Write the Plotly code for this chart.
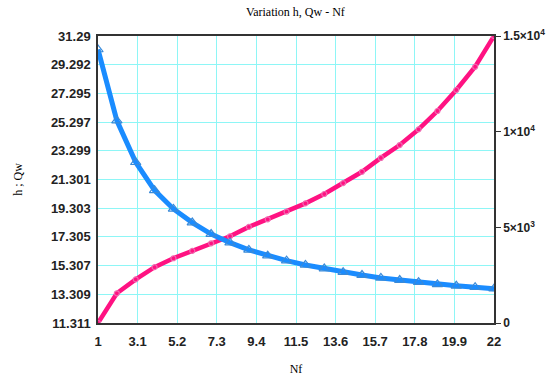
import plotly.graph_objects as go

nf = list(range(1, 23))
h_pink = [11.311, 13.38, 14.35, 15.2, 15.82, 16.33, 16.86, 17.35, 18.0, 18.53, 19.06,
          19.64, 20.29, 21.05, 21.84, 22.8, 23.7, 24.79, 26.07, 27.53, 29.15, 31.29]
q_blue = [30.35, 25.4, 22.5, 20.55, 19.25, 18.3, 17.5, 16.9, 16.4, 16.0, 15.65,
          15.35, 15.1, 14.85, 14.65, 14.45, 14.3, 14.15, 14.0, 13.9, 13.8, 13.7]

x_ticks = [1, 3.1, 5.2, 7.3, 9.4, 11.5, 13.6, 15.7, 17.8, 19.9, 22]
x_labels = ["1", "3.1", "5.2", "7.3", "9.4", "11.5", "13.6", "15.7", "17.8", "19.9", "22"]
y_ticks = [11.311, 13.309, 15.307, 17.305, 19.303, 21.301, 23.299, 25.297, 27.295, 29.292, 31.29]
y_labels = ["11.311", "13.309", "15.307", "17.305", "19.303", "21.301", "23.299",
            "25.297", "27.295", "29.292", "31.29"]
y2_ticks = [0, 5000, 10000, 15000]
y2_labels = ["0", "5×10<sup>3</sup>", "1×10<sup>4</sup>", "1.5×10<sup>4</sup>"]

PINK = "#ff1282"
BLUE = "#1a8cff"
GRID = "#8ef6f6"
TICKFONT = dict(family="Liberation Sans", size=13, color="#222222", weight="bold")
SERIF = dict(family="Liberation Serif", size=12, color="black")

fig = go.Figure()
fig.add_trace(go.Scatter(
    x=nf, y=h_pink, mode="lines+markers",
    line=dict(color=PINK, width=4.5),
    marker=dict(symbol="circle-open", size=5, color="#f06ab0", line=dict(width=1.2)),
    showlegend=False))
fig.add_trace(go.Scatter(
    x=nf, y=q_blue, mode="lines+markers",
    line=dict(color=BLUE, width=5),
    marker=dict(symbol="triangle-up-open", size=9, color="#3a8ad8", line=dict(width=1.2)),
    showlegend=False))
# invisible trace so the right-hand axis is drawn
fig.add_trace(go.Scatter(
    x=[nf[0]], y=[y2_ticks[0]], yaxis="y2", mode="none",
    hoverinfo="skip", showlegend=False))

fig.update_layout(
    width=547, height=376,
    margin=dict(l=98, r=53, t=36, b=53),
    paper_bgcolor="white", plot_bgcolor="white",
    title=dict(text="Variation h, Qw - Nf", x=0.54, xanchor="center", y=0.968, yanchor="middle",
               font=SERIF),
    xaxis=dict(range=[1, 22], tickvals=x_ticks, ticktext=x_labels,
               showgrid=True, gridcolor=GRID, gridwidth=1,
               showline=True, linecolor="#333333", linewidth=1.5, mirror=True,
               ticks="", zeroline=False, ticklabelstandoff=6, automargin=False,
               tickfont=TICKFONT,
               title=dict(text="Nf", standoff=22, font=SERIF)),
    yaxis=dict(range=[11.311, 31.29], tickvals=y_ticks, ticktext=y_labels,
               showgrid=True, gridcolor=GRID, gridwidth=1,
               showline=True, linecolor="#333333", linewidth=1.5,
               ticks="", zeroline=False, ticklabelstandoff=3, automargin=False,
               tickfont=TICKFONT,
               title=dict(text="h ; Qw", standoff=26, font=SERIF)),
    yaxis2=dict(range=[0, 15000], overlaying="y", side="right", anchor="x",
                tickvals=y2_ticks, ticktext=y2_labels,
                showgrid=False, zeroline=False, automargin=False,
                showline=True, linecolor="#333333", linewidth=1.5,
                ticks="outside", ticklen=5, tickcolor="#333333",
                tickfont=dict(family="Liberation Sans", size=12, color="#222222", weight="bold")),
)

fig.write_html("out.html")
